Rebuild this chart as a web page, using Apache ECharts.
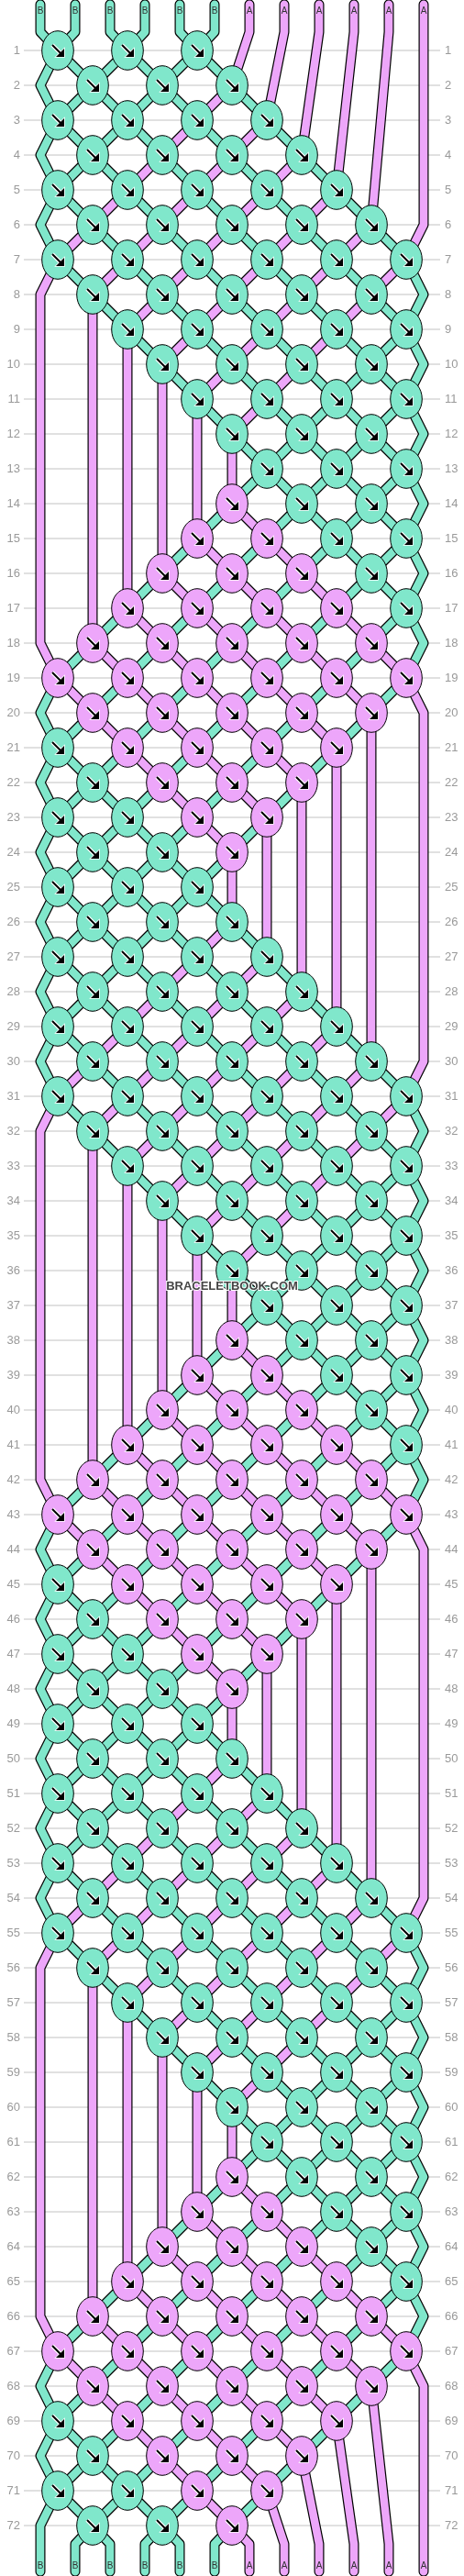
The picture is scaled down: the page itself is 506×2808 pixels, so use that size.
<!DOCTYPE html>
<html><head><meta charset="utf-8">
<script src="https://cdn.jsdelivr.net/npm/echarts@6/dist/echarts.min.js"></script>
<style>html,body{margin:0;padding:0;background:#fff}#c{width:506px;height:2808px}</style>
</head><body><div id="c"></div>
<script>
// ---- data ----
const stringLabels = ['B','B','B','B','B','B','A','A','A','A','A','A'];
const colorOf = {A:'#EDA6FA', B:'#80E7CB'};
// knot rows: 'f' = forward knot, '-' = no knot (odd rows 6 slots, even rows 5 slots)
const knotRows = [
 'fff---','fff--','ffff--','ffff-','fffff-','fffff',
 'ffffff','fffff','-fffff','-ffff','--ffff','--fff','---fff','--fff','--ffff','-ffff','-fffff','fffff',
 'ffffff','fffff','fffff-','ffff-','ffff--','fff--','fff---','fff--','ffff--','ffff-','fffff-','fffff',
 'ffffff','fffff','-fffff','-ffff','--ffff','--fff','---fff','--fff','--ffff','-ffff','-fffff','fffff',
 'ffffff','fffff','fffff-','ffff-','ffff--','fff--','fff---','fff--','ffff--','ffff-','fffff-','fffff',
 'ffffff','fffff','-fffff','-ffff','--ffff','--fff','---fff','--fff','--ffff','-ffff','-fffff','fffff',
 'ffffff','fffff','fffff-','ffff-','ffff--','fff--'
];
const rowNumbers = knotRows.map((_, i) => i + 1);
const watermark = 'BRACELETBOOK.COM';

// ---- simulate ----
const N = stringLabels.length, R = knotRows.length;
const TOP_END = -0.32, TOP_BEND = 0.47, BOT_BEND = R + 0.53, BOT_END = R + 1.32;
let pos = stringLabels.map((_, i) => i);
const paths = stringLabels.map((_, i) => [[i, TOP_END], [i, TOP_BEND]]);
const knots = [];
knotRows.forEach((row, ri) => {
  const r = ri + 1, off = (r % 2 === 1) ? 0 : 1;
  const used = new Array(N).fill(false);
  for (let k = 0; k < row.length; k++) {
    if (row[k] !== 'f') continue;
    const a = 2 * k + off, b = a + 1;
    const L = pos[a], Rr = pos[b];
    knots.push([a + 0.5, r, stringLabels[L]]);
    paths[L].push([a + 0.5, r]); paths[Rr].push([a + 0.5, r]);
    pos[a] = Rr; pos[b] = L; used[a] = used[b] = true;
  }
  if (off === 1) {
    if (!used[0]) paths[pos[0]].push([0, r]);
    if (!used[N - 1]) paths[pos[N - 1]].push([N - 1, r]);
  }
});
pos.forEach((s, p) => { paths[s].push([p, BOT_BEND]); paths[s].push([p, BOT_END]); });
const endLabels = pos.map(s => stringLabels[s]);

// ---- chart ----
const chart = echarts.init(document.getElementById('c'), null, {renderer: 'canvas'});
const X0 = -44 / 38, X1 = (506 - 44) / 38, Y0 = 1 - 55 / 38, Y1 = 1 + (2808 - 55) / 38;
function pathSeries(kind) {
  return {
    type: 'custom', coordinateSystem: 'cartesian2d', silent: true,
    data: paths.map((_, i) => [i, 0]),
    z: kind === 'out' ? 2 : 3,
    renderItem(params, api) {
      const i = api.value(0);
      const pts = paths[i].map(p => api.coord(p));
      return { type: 'polyline', shape: { points: pts },
        style: { fill: null, stroke: kind === 'out' ? '#000' : colorOf[stringLabels[i]],
          lineWidth: kind === 'out' ? 11 : 8.6, lineCap: 'round', lineJoin: 'round' } };
    }
  };
}
const option = {
  animation: false,
  grid: { left: 0, right: 0, top: 0, bottom: 0 },
  xAxis: { type: 'value', min: X0, max: X1, show: false },
  yAxis: { type: 'value', min: Y0, max: Y1, inverse: true, show: false },
  series: [
    { // row lines and labels
      type: 'custom', silent: true, z: 1,
      data: rowNumbers.map(n => [0, n]),
      renderItem(params, api) {
        const r = api.value(1);
        const a = api.coord([(26 - 44) / 38, r]), b = api.coord([(480 - 44) / 38, r]);
        const font = '13px "Liberation Sans", Arial, sans-serif';
        return { type: 'group', children: [
          { type: 'line', shape: { x1: a[0], y1: a[1], x2: b[0], y2: b[1] }, style: { stroke: '#c2c2c2', lineWidth: 1 } },
          { type: 'text', x: a[0] - 4, y: a[1], style: { text: String(r), font, fill: '#9a9a9a', align: 'right', verticalAlign: 'middle' } },
          { type: 'text', x: b[0] + 5, y: b[1], style: { text: String(r), font, fill: '#9a9a9a', align: 'left', verticalAlign: 'middle' } }
        ]};
      }
    },
    pathSeries('out'),
    pathSeries('fill'),
    { // knots
      type: 'custom', silent: true, z: 4,
      data: knots.map(k => [k[0], k[1]]),
      renderItem(params, api) {
        const c = api.coord([api.value(0), api.value(1)]);
        const col = colorOf[knots[params.dataIndex][2]];
        return { type: 'group', x: c[0], y: c[1], children: [
          { type: 'ellipse', shape: { cx: 0, cy: 0, rx: 17.3, ry: 21.3 }, style: { fill: col, stroke: '#000', lineWidth: 1 } },
          { type: 'line', shape: { x1: -6, y1: -6, x2: 4, y2: 4 }, style: { stroke: '#fff', lineWidth: 4.5 } },
          { type: 'polygon', shape: { points: [[7, 7], [7, -2], [-2, 7]] }, style: { fill: '#000', stroke: '#fff', lineWidth: 1.5 } },
          { type: 'line', shape: { x1: -6, y1: -6, x2: 4, y2: 4 }, style: { stroke: '#000', lineWidth: 2 } },
          { type: 'polygon', shape: { points: [[7, 7], [7, -2], [-2, 7]] }, style: { fill: '#000' } }
        ]};
      }
    },
    { // string end labels
      type: 'custom', silent: true, z: 5,
      data: stringLabels.map((s, i) => [i, -0.13]).concat(endLabels.map((s, i) => [i, R + 1.16])),
      renderItem(params, api) {
        const c = api.coord([api.value(0), api.value(1)]);
        const lab = params.dataIndex < N ? stringLabels[params.dataIndex] : endLabels[params.dataIndex - N];
        return { type: 'text', x: c[0], y: c[1], style: { text: lab, font: '10px "Liberation Sans", Arial, sans-serif', fill: '#333', align: 'center', verticalAlign: 'middle' } };
      }
    },
    { // watermark
      type: 'custom', silent: true, z: 6,
      data: [[5.5, 36.46]],
      renderItem(params, api) {
        const c = api.coord([api.value(0), api.value(1)]);
        return { type: 'text', x: c[0], y: c[1], style: { text: watermark, font: 'bold 13px "Liberation Sans", Arial, sans-serif', fill: '#444', stroke: '#fff', lineWidth: 2, align: 'center', verticalAlign: 'middle' } };
      }
    }
  ]
};
chart.setOption(option);
</script></body></html>
